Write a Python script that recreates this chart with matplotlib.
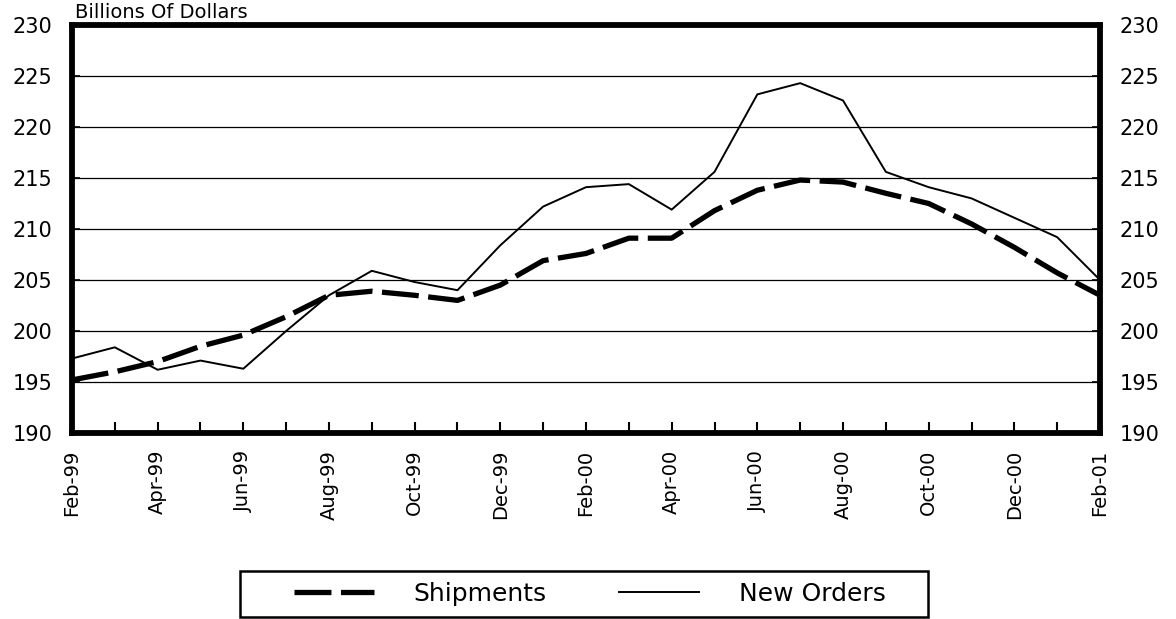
import matplotlib
matplotlib.use("Agg")
import matplotlib.pyplot as plt
from matplotlib.ticker import FixedLocator
from matplotlib.patches import Rectangle

months = ["Feb-99", "Mar-99", "Apr-99", "May-99", "Jun-99", "Jul-99", "Aug-99",
          "Sep-99", "Oct-99", "Nov-99", "Dec-99", "Jan-00", "Feb-00", "Mar-00",
          "Apr-00", "May-00", "Jun-00", "Jul-00", "Aug-00", "Sep-00", "Oct-00",
          "Nov-00", "Dec-00", "Jan-01", "Feb-01"]
shipments = [195.2, 196.0, 197.0, 198.5, 199.6, 201.4, 203.5, 203.9, 203.5, 203.0,
             204.5, 206.9, 207.6, 209.1, 209.1, 211.8, 213.8, 214.8, 214.6, 213.5,
             212.5, 210.5, 208.2, 205.7, 203.5]
new_orders = [197.3, 198.4, 196.2, 197.1, 196.3, 200.0, 203.5, 205.9, 204.8, 204.0,
              208.4, 212.2, 214.1, 214.4, 211.9, 215.6, 223.2, 224.3, 222.6, 215.6,
              214.1, 213.0, 211.1, 209.2, 205.0]
yticks = [190, 195, 200, 205, 210, 215, 220, 225, 230]

plt.rcParams['font.family'] = ['DejaVu Sans']

fig = plt.figure(figsize=(11.76, 6.19), dpi=100)
ax = fig.add_axes([0.0612, 0.3005, 0.8742, 0.6591])

x = list(range(len(months)))
ax.plot(x, shipments, color='black', lw=3.8, dashes=(7, 1.8), label='Shipments',
        solid_capstyle='butt', dash_capstyle='butt', zorder=3)
ax.plot(x, new_orders, color='black', lw=1.4, label='New Orders', zorder=3)

ax.set_xlim(0, len(months) - 1)
ax.set_ylim(190, 230)
ax.set_yticks(yticks)
for yv in yticks[1:-1]:
    ax.axhline(yv, color='black', lw=0.9, zorder=1)

ax.xaxis.set_major_locator(FixedLocator(x[::2]))
ax.set_xticklabels(months[::2], rotation=90, fontsize=14)
ax.xaxis.set_minor_locator(FixedLocator(x))
ax.tick_params(axis='x', which='both', direction='in', length=8, width=1.5, pad=12)
ax.tick_params(axis='y', which='major', direction='in', length=6, width=1.2,
               labelsize=15, left=True, right=True, labelleft=True, labelright=True,
               pad=14)
for s in ax.spines.values():
    s.set_linewidth(4.2)

fig.text(0.064, 0.979, "Billions Of Dollars", fontsize=14, ha='left', va='center')

leg = fig.legend(loc='center', bbox_to_anchor=(0.5017, 0.040), ncol=2,
                 fontsize=18, frameon=False,
                 handlelength=3.2, handletextpad=1.6, columnspacing=2.9,
                 borderpad=0.2, borderaxespad=0.0)
fig.patches.append(Rectangle((240 / 1176, 1 - 617 / 619), (928 - 240) / 1176,
                             (617 - 571) / 619, transform=fig.transFigure,
                             fill=False, edgecolor='black', lw=1.8))

fig.savefig("out.png", dpi=100)
